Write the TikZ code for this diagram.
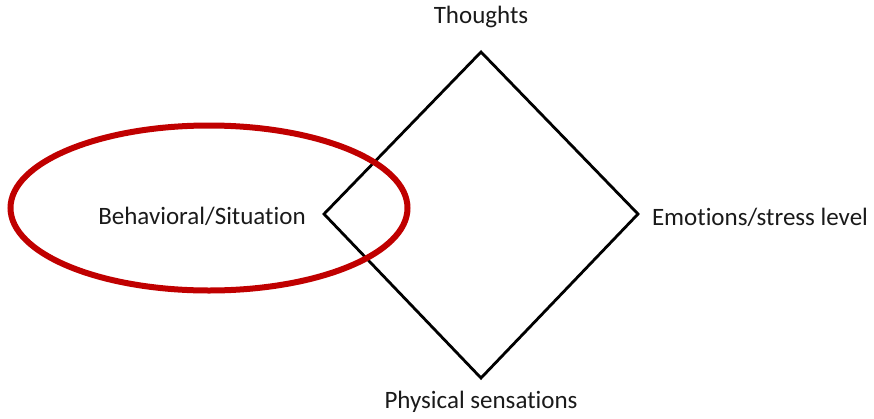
\documentclass[tikz,border=0pt]{standalone}
\usepackage{fontspec}
\setmainfont[Ligatures=NoCommon]{Carlito}
\usetikzlibrary{shapes.geometric}
\definecolor{ovalred}{HTML}{C00000}
\definecolor{txt}{HTML}{1A1A1A}
\begin{document}
\begin{tikzpicture}[x=1pt,y=-1pt,
  lbl/.style={font=\fontsize{25}{29}\selectfont, text=txt, inner sep=0pt},
  edge/.style={draw=black, line width=2.8pt, line join=miter}]
\useasboundingbox (0,0) rectangle (874,418);
\coordinate (top) at (481,52);
\coordinate (right) at (638,214);
\coordinate (bottom) at (481,378);
\coordinate (left) at (324,214);
\draw[edge] (top) -- (right) -- (bottom) -- (left) -- cycle;
\node[draw=ovalred, line width=6pt, ellipse, minimum width=397pt, minimum height=165pt, inner sep=0pt] (oval) at (209,208) {};
\node[lbl] (th) at (481,17) {Thoughts};
\node[lbl] (bs) at (202,216) {Behavioral/Situation};
\node[lbl] (em) at (760,217) {Emotions/stress level};
\node[lbl] (ph) at (481,402) {Physical sensations};
\end{tikzpicture}
\end{document}
